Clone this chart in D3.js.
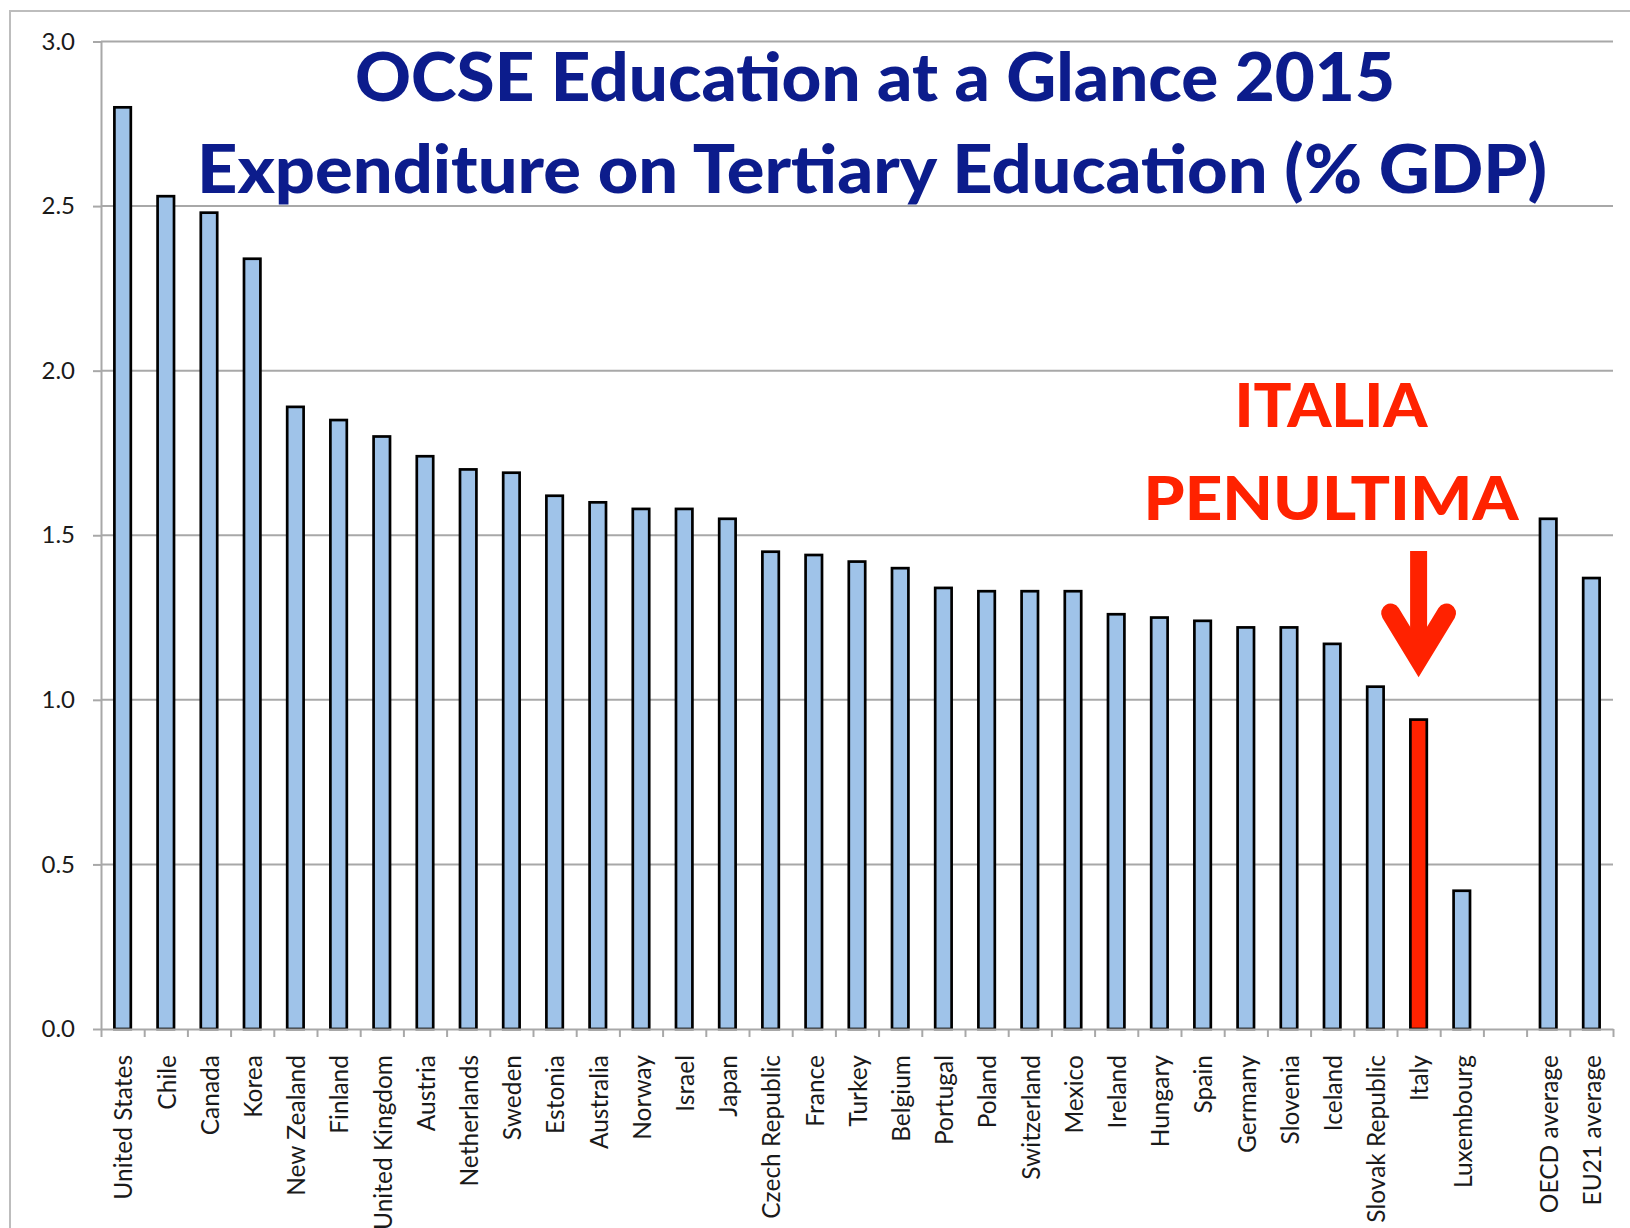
<!DOCTYPE html>
<html><head><meta charset="utf-8">
<script src="https://cdn.jsdelivr.net/npm/d3@7"></script>
<style>
html,body{margin:0;padding:0;background:#fff;}
svg{display:block;}
</style></head>
<body>
<svg id="chart" width="1630" height="1228"></svg>
<script>
const categories = ["United States","Chile","Canada","Korea","New Zealand","Finland","United Kingdom","Austria","Netherlands","Sweden","Estonia","Australia","Norway","Israel","Japan","Czech Republic","France","Turkey","Belgium","Portugal","Poland","Switzerland","Mexico","Ireland","Hungary","Spain","Germany","Slovenia","Iceland","Slovak Republic","Italy","Luxembourg","","OECD average","EU21 average"];
const values = [2.80,2.53,2.48,2.34,1.89,1.85,1.80,1.74,1.70,1.69,1.62,1.60,1.58,1.58,1.55,1.45,1.44,1.42,1.40,1.34,1.33,1.33,1.33,1.26,1.25,1.24,1.22,1.22,1.17,1.04,0.94,0.42,null,1.55,1.37];
const yTicks = [0,0.5,1.0,1.5,2.0,2.5,3.0];
const highlight = "Italy";
const titleLines = ["OCSE Education at a Glance 2015","Expenditure on Tertiary Education (% GDP)"];
const noteLines = ["ITALIA","PENULTIMA"];

const svg = d3.select("#chart");
const mLeft = 101, mRight = 1613, mTop = 41.5, mBottom = 1029;

// outer frame
svg.append("rect").attr("x",10).attr("y",11).attr("width",1640).attr("height",1240)
  .attr("fill","none").attr("stroke","#bdbdbd").attr("stroke-width",2);

const keys = categories.map((c,i)=> c===""? "__gap"+i : c);
const x = d3.scaleBand().domain(keys).range([mLeft,mRight]).paddingInner(0.62).paddingOuter(0.31);
const xi = d3.scaleLinear().domain([0,categories.length]).range([mLeft,mRight]);
const y = d3.scaleLinear().domain([0,3]).range([mBottom,mTop]);

// gridlines
svg.append("g").selectAll("line").data(yTicks.filter(d=>d>0)).join("line")
  .attr("x1",mLeft).attr("x2",mRight).attr("y1",d=>y(d)).attr("y2",d=>y(d))
  .attr("stroke","#a8a8a8").attr("stroke-width",2);

// y axis
const ya = svg.append("g").attr("transform",`translate(${mLeft},0)`)
  .call(d3.axisLeft(y).tickValues(yTicks).tickFormat(d3.format(".1f")).tickSize(8).tickSizeOuter(0).tickPadding(18));
ya.select(".domain").attr("stroke","#a8a8a8").attr("stroke-width",2);
ya.selectAll(".tick line").attr("stroke","#a8a8a8").attr("stroke-width",2);
ya.selectAll(".tick text").attr("font-family","Lato, 'Open Sans', sans-serif").attr("font-size",24).attr("fill","#1a1a1a");

// bars
svg.append("g").selectAll("rect").data(values.map((v,i)=>({k:keys[i],c:categories[i],v}))
  .filter(d=>d.v!==null)).join("rect")
  .attr("x",d=>x(d.k)).attr("width",x.bandwidth())
  .attr("y",d=>y(d.v)).attr("height",d=>y(0)-y(d.v))
  .attr("fill",d=>d.c===highlight?"#ff2200":"#9fc3e9")
  .attr("stroke","#000").attr("stroke-width",2.7);

// x axis
const xa = svg.append("g").attr("transform",`translate(0,${mBottom})`)
  .call(d3.axisBottom(xi).tickValues(d3.range(categories.length+1)).tickFormat("").tickSize(8).tickSizeOuter(0));
xa.select(".domain").attr("stroke","#a8a8a8").attr("stroke-width",2);
xa.selectAll(".tick line").attr("stroke","#a8a8a8").attr("stroke-width",2);

// category labels
svg.append("g").selectAll("text").data(categories.map((c,i)=>({c,k:keys[i]}))).join("text")
  .attr("transform",d=>`translate(${x(d.k)+x.bandwidth()/2+1},1055) rotate(-90)`)
  .attr("text-anchor","end").attr("dy","0.36em")
  .attr("font-family","Lato, 'Open Sans', sans-serif").attr("font-size",24.5).attr("fill","#1a1a1a")
  .text(d=>d.c);

// title
const tf = "Lato, 'Open Sans', sans-serif";
svg.append("text").attr("x",875).attr("y",101).attr("text-anchor","middle")
  .attr("font-family",tf).attr("font-weight",900).attr("font-size",67).attr("fill","#0c1c8c")
  .attr("textLength",1040).attr("lengthAdjust","spacingAndGlyphs").text(titleLines[0]);
svg.append("text").attr("x",872).attr("y",193).attr("text-anchor","middle")
  .attr("font-family",tf).attr("font-weight",900).attr("font-size",66).attr("fill","#0c1c8c")
  .attr("textLength",1350).attr("lengthAdjust","spacingAndGlyphs").text(titleLines[1]);

// annotation
svg.append("text").attr("x",1331).attr("y",427).attr("text-anchor","middle")
  .attr("font-family",tf).attr("font-weight",900).attr("font-size",61).attr("fill","#ff2200")
  .attr("textLength",193).attr("lengthAdjust","spacingAndGlyphs").text(noteLines[0]);
svg.append("text").attr("x",1331).attr("y",520).attr("text-anchor","middle")
  .attr("font-family",tf).attr("font-weight",900).attr("font-size",61).attr("fill","#ff2200")
  .attr("textLength",375).attr("lengthAdjust","spacingAndGlyphs").text(noteLines[1]);

// arrow
const ax = x(highlight)+x.bandwidth()/2;
svg.append("line").attr("x1",ax).attr("x2",ax).attr("y1",551).attr("y2",662)
  .attr("stroke","#ff2200").attr("stroke-width",17);
svg.append("path").attr("d",`M${ax-28},${613} L${ax},${659} L${ax+28},${613}`)
  .attr("fill","none").attr("stroke","#ff2200").attr("stroke-width",19)
  .attr("stroke-linecap","round").attr("stroke-linejoin","miter").attr("stroke-miterlimit",10);
</script>
</body></html>
